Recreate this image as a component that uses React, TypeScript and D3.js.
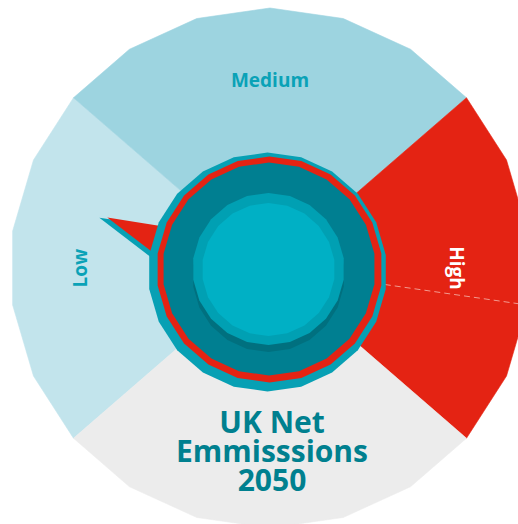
import React from "react";
import * as d3 from "d3";

const W = 518;
const H = 524;

// Gauge bands (counted in polygon sides, clockwise, starting at side 14 of 22)
const bandLabels = ["Low", "Medium", "High", ""];
const bandSides = [5, 6, 5, 6];
const bandColors = ["#c2e4ec", "#9dd4e0", "#e42313", "#ececec"];
const labelColors = ["#0aa2b7", "#0aa2b7", "#ffffff", "none"];
const totalSides = 22;
const startSide = 14;
const highSplitSide = 3; // dashed divider inside the High band
const needleDeg = 288; // needle direction, degrees clockwise from top
const titleLines = ["UK Net", "Emmisssions", "2050"];

const cx = 270;
const cy = 268;
const R = 260;

function pt(a: number, r: number, x0 = cx, y0 = cy): [number, number] {
  return [x0 + r * Math.sin(a), y0 - r * Math.cos(a)];
}

const sideAngle = d3.scaleLinear().domain([0, totalSides]).range([0, 2 * Math.PI]);

function polygon(r: number, x0: number, y0: number): string {
  const pts = d3.range(totalSides).map((i) => pt(sideAngle(i), r, x0, y0));
  return d3.line().curve(d3.curveLinearClosed)(pts as [number, number][]) || "";
}

export default function App() {
  const starts: number[] = [];
  let acc = startSide;
  bandSides.forEach((s) => {
    starts.push(acc);
    acc += s;
  });

  const bandPath = (s0: number, n: number) => {
    const pts: [number, number][] = [[cx, cy]];
    for (let i = 0; i <= n; i++) pts.push(pt(sideAngle(s0 + i), R));
    return d3.line().curve(d3.curveLinearClosed)(pts) || "";
  };

  const highIdx = 2;
  const splitAngle = sideAngle(starts[highIdx] + highSplitSide);
  const [dx1, dy1] = pt(splitAngle, 116);
  const [dx2, dy2] = pt(splitAngle, R + 20);

  const icx = 268.5;
  const icy = 270;

  const needleLine = d3.line().curve(d3.curveLinearClosed);
  const needleRed: [number, number][] = [
    [0, -169.5],
    [17.4, -60],
    [-38.5, -60],
  ];
  const needleShadow: [number, number][] = [
    [-2.5, -177],
    [17.4, -60],
    [-44, -60],
  ];

  const labelRadius = [190, 188, 187, 188];

  return (
    <svg
      width={W}
      height={H}
      viewBox={`0 0 ${W} ${H}`}
      style={{ position: "absolute", left: 0, top: 0, overflow: "hidden", background: "#ffffff" }}
    >
      <g>
        {bandSides.map((n, i) => (
          <path key={i} d={bandPath(starts[i], n)} fill={bandColors[i]} stroke={bandColors[i]} strokeWidth={0.6} />
        ))}
        <line
          x1={dx1}
          y1={dy1}
          x2={dx2}
          y2={dy2}
          stroke="#f39a8f"
          strokeWidth={1}
          strokeDasharray="6,4"
        />
      </g>

      {bandLabels.map((lab, i) => {
        if (!lab) return null;
        const mid = sideAngle(starts[i] + bandSides[i] / 2);
        const [x, y] = pt(mid, labelRadius[i]);
        const deg = ((mid * 180) / Math.PI) % 360;
        const rot = deg > 180 ? deg - 360 : deg;
        return (
          <text
            key={lab}
            x={0}
            y={0}
            dy="0.36em"
            transform={`translate(${x},${y}) rotate(${rot})`}
            textAnchor="middle"
            fill={labelColors[i]}
            fontFamily="'Open Sans', 'Noto Sans', sans-serif"
            fontWeight={700}
            fontSize={19}
          >
            {lab}
          </text>
        );
      })}

      <g transform={`translate(${icx},${icy}) rotate(${needleDeg})`}>
        <path d={needleLine(needleShadow) || ""} fill="#07a0b4" />
        <path d={needleLine(needleRed) || ""} fill="#e42313" />
      </g>

      <path d={polygon(119.5, 267.5, 272)} fill="#07a0b4" />
      <path d={polygon(113, 269.5, 269.5)} fill="#e42313" />
      <path d={polygon(106.5, 269, 269)} fill="#007f91" />
      <path d={polygon(76, icx, 276)} fill="#00707f" />
      <path d={polygon(76, icx, 269)} fill="#00a0b3" />
      <path d={polygon(66.5, icx, 269.5)} fill="#00b0c5" />

      {titleLines.map((t, i) => (
        <text
          key={i}
          x={272}
          y={432.5 + i * 29}
          textAnchor="middle"
          fill="#00808f"
          fontFamily="'Open Sans', 'Noto Sans', sans-serif"
          fontWeight={700}
          fontSize={30}
        >
          {t}
        </text>
      ))}
    </svg>
  );
}
